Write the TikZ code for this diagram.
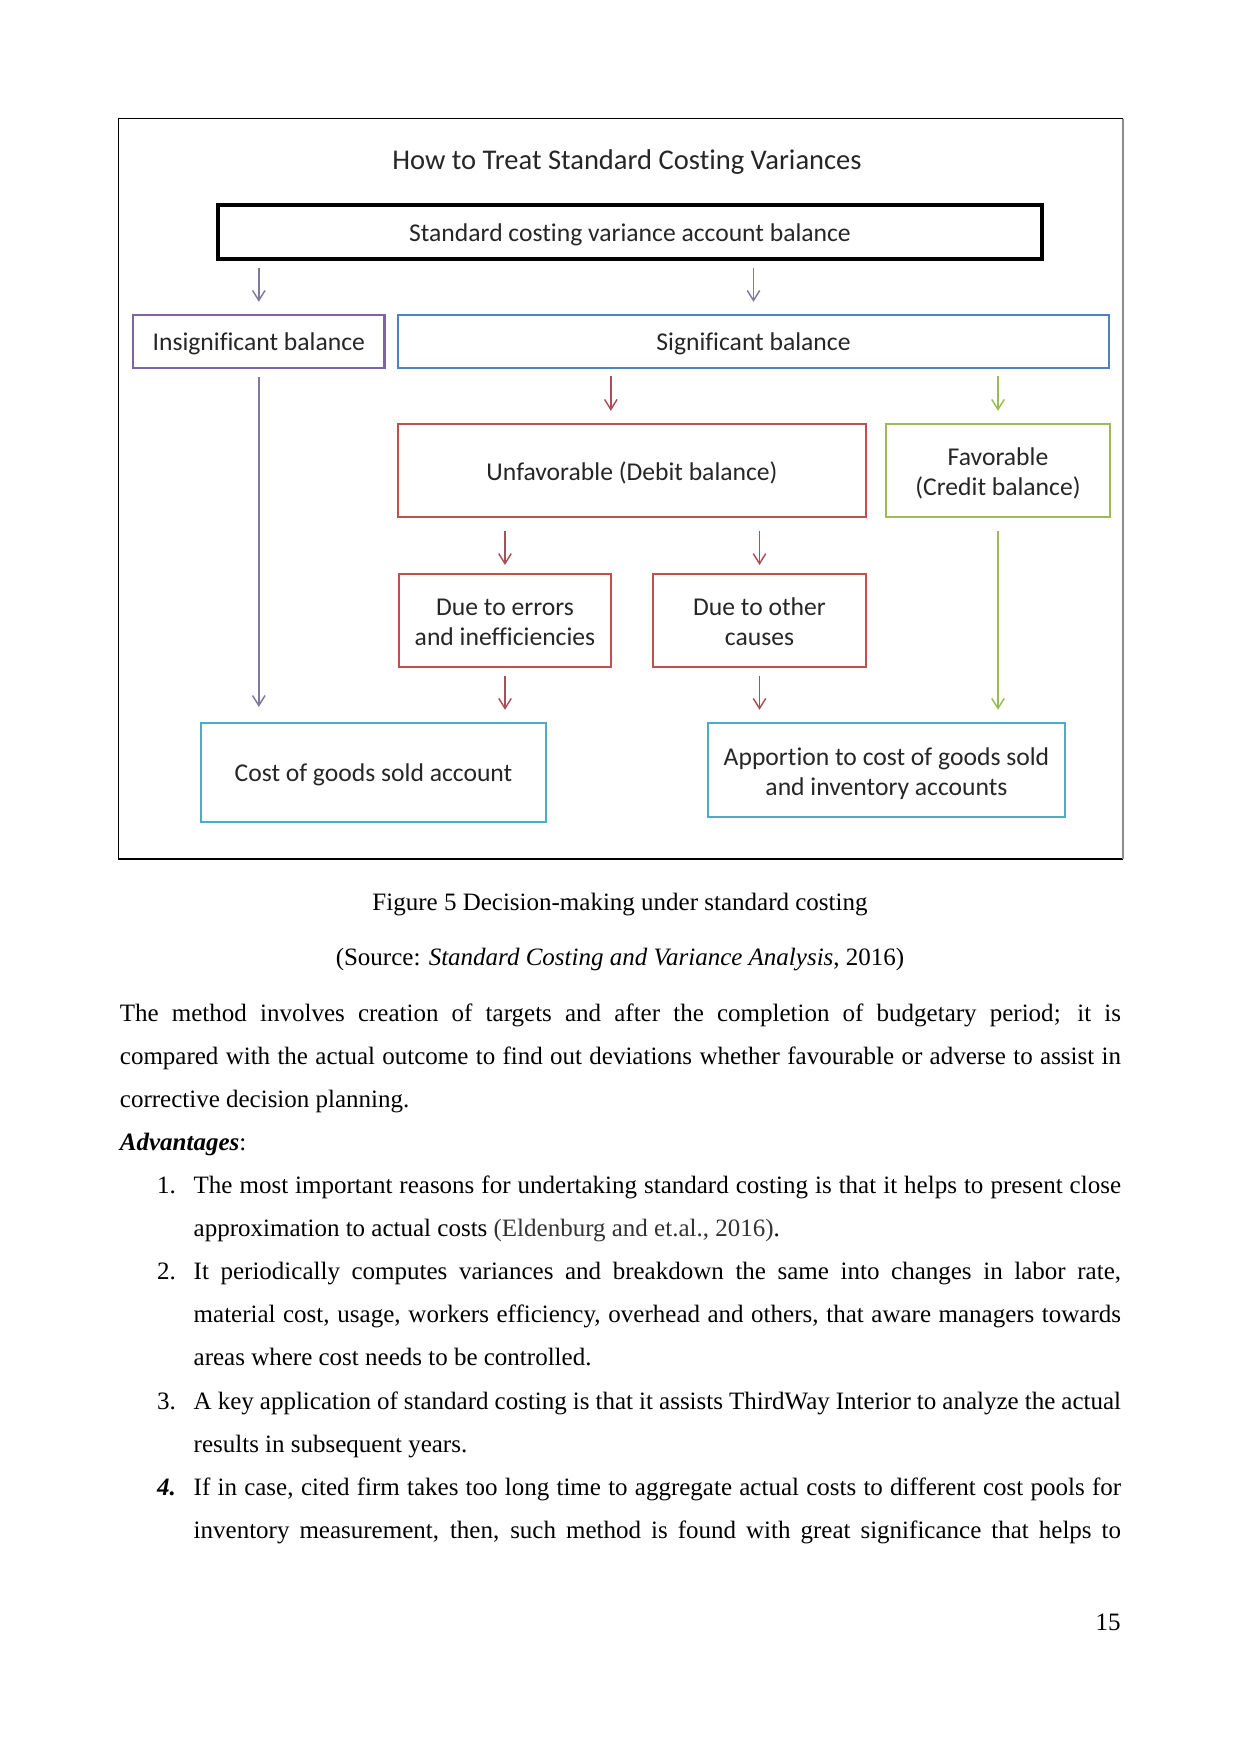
\documentclass[tikz,border=0pt]{standalone}
\usepackage{fontspec}
\setmainfont{Liberation Serif}
\newfontfamily\vsans[Ligatures=NoCommon]{Carlito}
\usepackage{tikz}
\usetikzlibrary{arrows.meta,calc,positioning}
\definecolor{vpurple}{HTML}{8064A2}
\definecolor{vblue}{HTML}{4F81BD}
\definecolor{vred}{HTML}{C0504D}
\definecolor{vgreen}{HTML}{9BBB59}
\definecolor{vteal}{HTML}{4BACC6}
\definecolor{vgrayarrow}{HTML}{7D7A9C}
\definecolor{vredarrow}{HTML}{A8505A}
\newcommand{\vjust}[2]{\makebox[#1][s]{#2}}
\tikzset{
  >={Straight Barb[length=4.8pt,width=6pt]},
  vbox/.style={draw, line width=1.1pt, align=center, inner sep=2pt,
               font=\vsans\fontsize{12.3pt}{14.5pt}\selectfont, text=black!85,
               execute at begin node={\rule{0pt}{11.2pt}}},
  vbox2/.style={vbox, text height=27pt, text depth=2.7pt},
  vtopbox/.style={vbox, draw=black, line width=1.6pt},
  varrow/.style={->, line width=0.7pt, shorten <=3.5pt, shorten >=5.8pt},
  vline/.style={anchor=base west, inner sep=0pt, font=\fontsize{12pt}{14pt}\selectfont},
  vmid/.style={vline, anchor=base},
}

\begin{document}
\begin{tikzpicture}[x=0.48pt,y=-0.48pt]
  \useasboundingbox (0,0) rectangle (1241,1754);

  % moldura da figura
  \draw[black, line width=0.7pt] (1123,118.5) -- (118.5,118.5) -- (118.5,859) -- (1123,859);
  \draw[black!45, line width=0.5pt] (1123,118.5) -- (1123,859);

  % titulo e caixas
  \node[anchor=base, inner sep=0pt, text=black!85,
        font=\vsans\fontsize{13.7pt}{16pt}\selectfont] (titulo) at (627,169.3)
    {How to Treat Standard Costing Variances};

  \node[vtopbox, minimum width=395.5pt, minimum height=25.9pt] (conta) at (630,232)
    {Standard costing variance account balance};
  \node[vbox, draw=vpurple, minimum width=120.7pt, minimum height=25.4pt] (insig) at (258.8,341.5)
    {Insignificant balance};
  \node[vbox, draw=vblue, minimum width=341.3pt, minimum height=25.4pt] (sig) at (753.5,341.5)
    {Significant balance};
  \node[vbox, draw=vred, minimum width=224.6pt, minimum height=44.6pt] (desf) at (632,470.5)
    {Unfavorable (Debit balance)};
  \node[vbox2, draw=vgreen, minimum width=107.5pt, minimum height=44.6pt] (fav) at (998,470.5)
    {Favorable\\(Credit balance)};
  \node[vbox2, draw=vred, minimum width=101.8pt, minimum height=44.6pt] (erros) at (505,620.5)
    {Due to errors\\and inefficiencies};
  \node[vbox2, draw=vred, minimum width=102.2pt, minimum height=44.6pt] (outras) at (759.5,620.5)
    {Due to other\\causes};
  \node[vbox, draw=vteal, minimum width=165.6pt, minimum height=47.5pt] (cmv) at (373.5,772.5)
    {Cost of goods sold account};
  \node[vbox2, draw=vteal, minimum width=171.4pt, minimum height=45.1pt] (rateio) at (886.5,770)
    {Apportion to cost of goods sold\\and inventory accounts};

  % setas
  \coordinate (desfin) at ($(desf.north west)!0.455!(desf.north east)$);
  \draw[varrow, vgrayarrow] (conta.south -| insig.north) -- (insig.north);
  \draw[varrow, vgrayarrow] (conta.south -| sig.north) -- (sig.north);
  \draw[varrow, vgrayarrow, shorten <=3.8pt, shorten >=7.2pt] (insig.south) -- (insig.south |- cmv.north);
  \draw[varrow, vredarrow] (sig.south -| desfin) -- (desfin);
  \draw[varrow, vgreen] (sig.south -| fav.north) -- (fav.north);
  \draw[varrow, vredarrow, shorten <=6.2pt, shorten >=3.8pt] (desf.south -| erros.north) -- (erros.north);
  \draw[varrow, vredarrow, shorten <=6.2pt, shorten >=3.8pt] (desf.south -| outras.north) -- (outras.north);
  \draw[varrow, vredarrow, shorten <=3.8pt] (erros.south) -- (erros.south |- cmv.north);
  \draw[varrow, vredarrow, shorten <=3.8pt] (outras.south) -- (outras.south |- rateio.north);
  \draw[varrow, vgreen, shorten <=6.2pt] (fav.south) -- (fav.south |- rateio.north);

  % legenda
  \node[vmid] (leg) at (620,910.7) {Figure 5 Decision-making under standard costing};
  \node[vmid] (fonte) at (620,965.5) {(Source: \textit{Standard Costing and Variance Analysis}, 2016)};

  % texto do corpo
  \node[vline] (p1) at (119.5,1021.5) {\vjust{480.5pt}{The method involves creation of targets and after the completion of budgetary period; it is}};
  \node[vline] (p2) at (119.5,1064) {\vjust{480.5pt}{compared with the actual outcome to find out deviations whether favourable or adverse to assist in}};
  \node[vline] (p3) at (119.5,1107) {corrective decision planning.};
  \node[vline] (adv) at (119.5,1150) {\textbf{\textit{Advantages}}:};

  \node[vline] (n1) at (156.7,1193) {1.};
  \node[vline] (l1a) at (193.3,1193) {\vjust{445.1pt}{The most important reasons for undertaking standard costing is that it helps to present close}};
  \node[vline] (l1b) at (193.3,1236.5) {approximation to actual costs {\color{black!80}(Eldenburg and et.al., 2016)}.};

  \node[vline] (n2) at (156.7,1279.5) {2.};
  \node[vline] (l2a) at (193.3,1279.5) {\vjust{445.1pt}{It periodically computes variances and breakdown the same into changes in labor rate,}};
  \node[vline] (l2b) at (193.3,1322.5) {\vjust{445.1pt}{material cost, usage, workers efficiency, overhead and others, that aware managers towards}};
  \node[vline] (l2c) at (193.3,1365.5) {areas where cost needs to be controlled.};

  \node[vline] (n3) at (156.7,1409) {3.};
  \node[vline] (l3a) at (193.3,1409) {\vjust{445.1pt}{A key application of standard costing is that it assists ThirdWay Interior to analyze the actual}};
  \node[vline] (l3b) at (193.3,1452) {results in subsequent years.};

  \node[vline] (n4) at (156.7,1495.5) {\textbf{\textit{4.}}};
  \node[vline] (l4a) at (193.3,1495.5) {\vjust{445.1pt}{If in case, cited firm takes too long time to aggregate actual costs to different cost pools for}};
  \node[vline] (l4b) at (193.3,1538) {\vjust{445.1pt}{inventory measurement, then, such method is found with great significance that helps to}};

  % numero da pagina
  \node[vline, anchor=base east] (pag) at (1121,1630) {15};

\end{tikzpicture}
\end{document}
